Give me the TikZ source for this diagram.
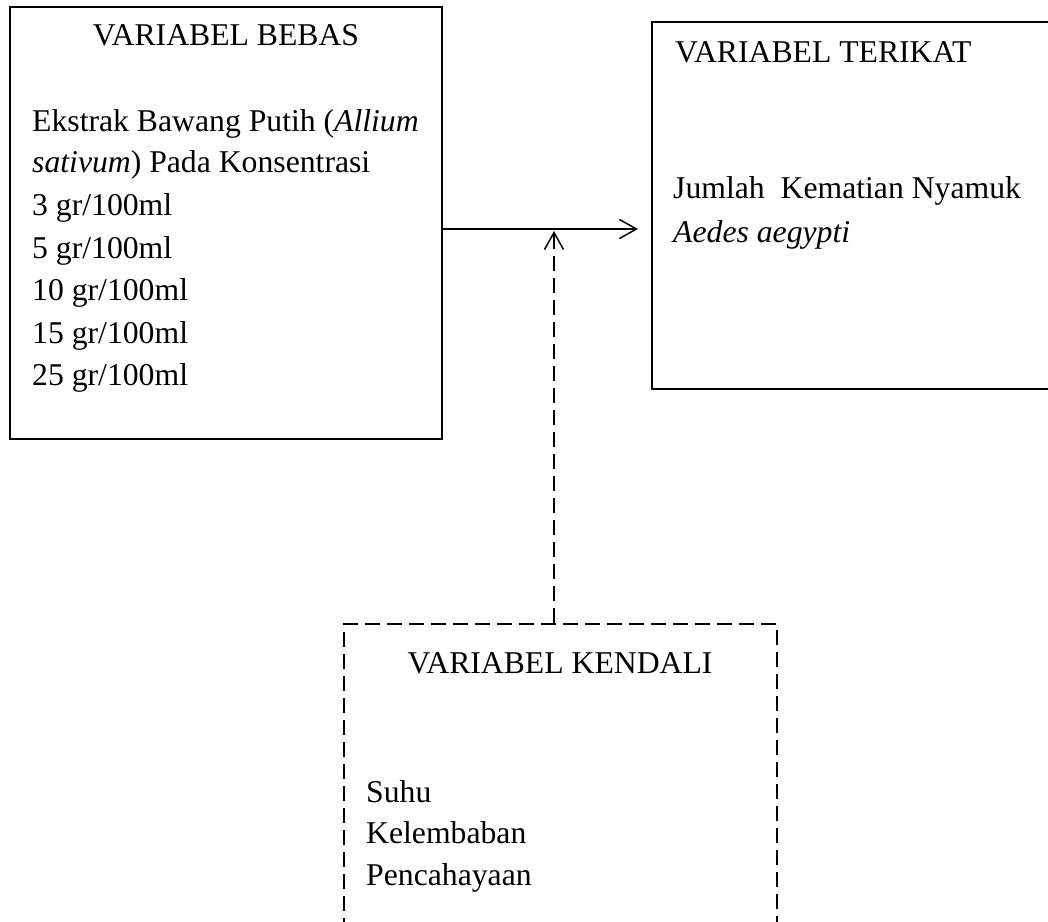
\documentclass[tikz,border=0pt]{standalone}
\usepackage{fontspec}
\setmainfont{Liberation Serif}
\usetikzlibrary{arrows.meta}
\begin{document}
\begin{tikzpicture}[x=1pt,y=-1pt,
  box/.style={draw, line width=1.5pt, rectangle, inner sep=0pt},
  dbox/.style={box, line width=1.7pt, dash pattern=on 15pt off 7pt},
  txt/.style={anchor=base west, inner sep=0pt, font=\fontsize{31.7}{42.3}\selectfont},
  ctxt/.style={anchor=base, inner sep=0pt, font=\fontsize{31.7}{42.3}\selectfont},
  arr/.style={line width=1.5pt, -{Straight Barb[length=17pt,width=19pt,line width=1.5pt]}},
  darr/.style={arr, line width=1.7pt, dash pattern=on 15pt off 7pt}]
\clip (0,0) rectangle (1048,921);
% boxes
\node[box, minimum width=432pt, minimum height=432pt] (bebas) at (226,223) {};
\node[box, minimum width=418pt, minimum height=367pt] (terikat) at (861,205.5) {};
\node[dbox, minimum width=433pt, minimum height=336pt] (kendali) at (560.5,792) {};
% box 1 text
\node[ctxt] (tb) at (226,45) {VARIABEL BEBAS};
\node[txt] (b1) at (32,131) {Ekstrak Bawang Putih (\textit{Allium}};
\node[txt] (b2) at (32,172) {\textit{sativum}) Pada Konsentrasi};
\node[txt] (b3) at (32,215) {3 gr/100ml};
\node[txt] (b4) at (32,258) {5 gr/100ml};
\node[txt] (b5) at (32,300) {10 gr/100ml};
\node[txt] (b6) at (32,343) {15 gr/100ml};
\node[txt] (b7) at (32,385) {25 gr/100ml};
% box 2 text
\node[txt] (tt) at (675,62) {VARIABEL TERIKAT};
\node[txt] (t1) at (673,198) {Jumlah\ \ Kematian Nyamuk};
\node[txt] (t2) at (673,242) {\textit{Aedes aegypti}};
% box 3 text
\node[ctxt] (tk) at (560,673) {VARIABEL KENDALI};
\node[txt] (k1) at (366,802) {Suhu};
\node[txt] (k2) at (366,843) {Kelembaban};
\node[txt] (k3) at (366,885) {Pencahayaan};
% connectors
\coordinate (ay) at (0,229);
\coordinate (tip) at (638,229);
\coordinate (jn) at (554,231);
\draw[arr] (bebas.east |- ay) -- (tip);
\draw[darr] (kendali.north -| jn) -- (jn);
\end{tikzpicture}
\end{document}
